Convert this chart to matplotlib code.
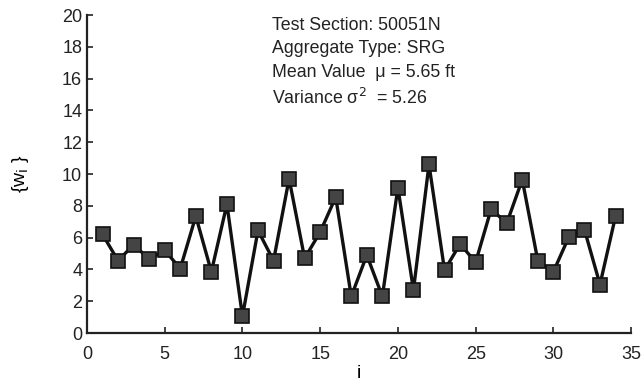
import matplotlib.pyplot as plt

plt.rcParams['font.family'] = ['Liberation Sans', 'DejaVu Sans']

# series index and values
idx = list(range(1, 35))
w = [6.2, 4.55, 5.55, 4.65, 5.2, 4.05, 7.35, 3.85, 8.1, 1.05,
     6.45, 4.55, 9.7, 4.7, 6.35, 8.55, 2.3, 4.9, 2.3, 9.15,
     2.7, 10.6, 3.95, 5.6, 4.45, 7.8, 6.9, 9.65, 4.55, 3.85,
     6.05, 6.5, 3.05, 7.35]

xticks = [0, 5, 10, 15, 20, 25, 30, 35]
yticks = list(range(0, 21, 2))

info = ['Test Section: 50051N',
        'Aggregate Type: SRG',
        'Mean Value  \u03bc = 5.65 ft',
        'Variance \u03c3$^{\\rm 2}$  = 5.26']

fig = plt.figure(figsize=(6.42, 3.92), dpi=100)
ax = fig.add_axes([0.1355, 0.1505, 0.8475, 0.8112])

ax.plot(idx, w, '-', color='#111111', lw=2.4,
        marker='s', ms=9.5, mfc='#444444', mec='#111111', mew=1.2)

ax.set_xlim(0, 35)
ax.set_ylim(0, 20)
ax.set_xticks(xticks)
ax.set_yticks(yticks)
ax.tick_params(direction='in', length=4, width=1.2, labelsize=13, colors='#222222')
ax.tick_params(axis='x', pad=9)
for s in ['top', 'right']:
    ax.spines[s].set_visible(False)
for s in ['left', 'bottom']:
    ax.spines[s].set_linewidth(1.6)
    ax.spines[s].set_color('#222222')

ax.set_xlabel('i', fontsize=14, labelpad=2)
ax.set_ylabel('{w$_{\\rm i}$ }', fontsize=14, labelpad=22)

for k, line in enumerate(info):
    fig.text(0.4237, 0.957 - k * 0.06, line, fontsize=12.8, va='top',
             color='#222222')

fig.savefig('out.png', dpi=100)
